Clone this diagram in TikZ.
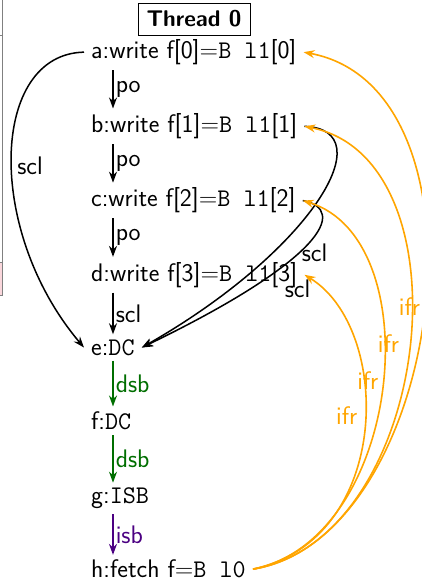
\documentclass[tikz,border=0pt]{standalone}
\usetikzlibrary{arrows.meta}
\definecolor{ifrorange}{RGB}{255,165,0}
\definecolor{dsbgreen}{RGB}{0,110,0}
\definecolor{isbpurple}{RGB}{75,0,130}
\definecolor{edgepink}{RGB}{250,215,220}
\begin{document}
\begin{tikzpicture}[x=1bp,y=-1bp,
  font=\sffamily\fontsize{25.5}{30}\selectfont,
  ev/.style={inner xsep=7bp, inner ysep=5bp, anchor=base west},
  arr/.style={line width=1.5bp, -{Stealth[length=11bp,width=8bp]}},
  lab/.style={inner sep=2bp, anchor=west},
  free/.style={inner sep=0bp},
  ifrline/.style={arr, draw=ifrorange, line width=1.6bp},
  dsbline/.style={arr, draw=dsbgreen, fill=dsbgreen},
  isbline/.style={arr, draw=isbpurple, fill=isbpurple}]
\useasboundingbox (0,0) rectangle (421,586);
% cropped frame at the left edge
\fill[edgepink] (0,262) rectangle (2.5,295);
\draw[gray, line width=0.8bp] (2.5,0) -- (2.5,295);
\draw[gray, line width=0.8bp] (0,35) -- (2.5,35);
\draw[gray, line width=0.8bp] (0,262) -- (2.5,262);
\draw[gray, line width=0.8bp] (0,295) -- (2.5,295);
% title
\node[draw, line width=0.8bp, font=\sffamily\bfseries\fontsize{22.8}{27}\selectfont,
  minimum width=112bp, minimum height=32bp, inner sep=0bp] (t0) at (194,19) {Thread 0};
% events
\node[ev] (a) at (84,58.5)  {a:write f[0]=\texttt{B l1}[0]};
\node[ev] (b) at (84,132.7) {b:write f[1]=\texttt{B l1}[1]};
\node[ev] (c) at (84,206.9) {c:write f[2]=\texttt{B l1}[2]};
\node[ev] (d) at (84,281.1) {d:write f[3]=\texttt{B l1}[3]};
\node[ev] (e) at (84,355.3) {e:\texttt{DC}};
\node[ev] (f) at (84,429.5) {f:\texttt{DC}};
\node[ev] (g) at (84,503.7) {g:\texttt{ISB}};
\node[ev] (h) at (84,577.9) {h:fetch f=\texttt{B l0}};
% vertical edges
\draw[arr] ([xshift=29bp]a.south west) -- ([xshift=29bp]b.north west) node[lab, midway] (po1) {po};
\draw[arr] ([xshift=29bp]b.south west) -- ([xshift=29bp]c.north west) node[lab, midway] (po2) {po};
\draw[arr] ([xshift=29bp]c.south west) -- ([xshift=29bp]d.north west) node[lab, midway] (po3) {po};
\draw[arr] ([xshift=29bp]d.south west) -- ([xshift=29bp]e.north west) node[lab, midway] (scl0) {scl};
\draw[dsbline] ([xshift=29bp]e.south west) -- ([xshift=29bp]f.north west) node[lab, midway, text=dsbgreen] (dsb1) {dsb};
\draw[dsbline] ([xshift=29bp]f.south west) -- ([xshift=29bp]g.north west) node[lab, midway, text=dsbgreen] (dsb2) {dsb};
\draw[isbline] ([xshift=29bp]g.south west) -- ([xshift=29bp]h.north west) node[lab, midway, text=isbpurple] (isb1) {isb};
% scl curves
\draw[arr] (a.west) .. controls +(-94,2) and +(-99,-117) .. (e.west);
\node[free] (scl1) at (30,166) {scl};
\draw[arr] (b.east) .. controls +(80,3) and +(170,-97) .. (e.east);
\draw[arr] (c.east) .. controls +(46,9) and +(180,-87) .. (e.east);
\node[free] (scl2) at (314.5,252.5) {scl};
\node[free] (scl3) at (297.5,288.5) {scl};
% ifr curves
\draw[ifrline] (h.east) .. controls +(190,-30) and +(198,37) .. (a.east);
\draw[ifrline] (h.east) .. controls +(180,-30) and +(168,33) .. (b.east);
\draw[ifrline] (h.east) .. controls +(150,-30) and +(128,39) .. (c.east);
\draw[ifrline] (h.east) .. controls +(140,-30) and +(88,54) .. (d.east);
\node[free, text=ifrorange] (ifr1) at (409.5,307) {ifr};
\node[free, text=ifrorange] (ifr2) at (388.5,343.5) {ifr};
\node[free, text=ifrorange] (ifr3) at (367.8,380.7) {ifr};
\node[free, text=ifrorange] (ifr4) at (346.7,415.3) {ifr};
\end{tikzpicture}
\end{document}
